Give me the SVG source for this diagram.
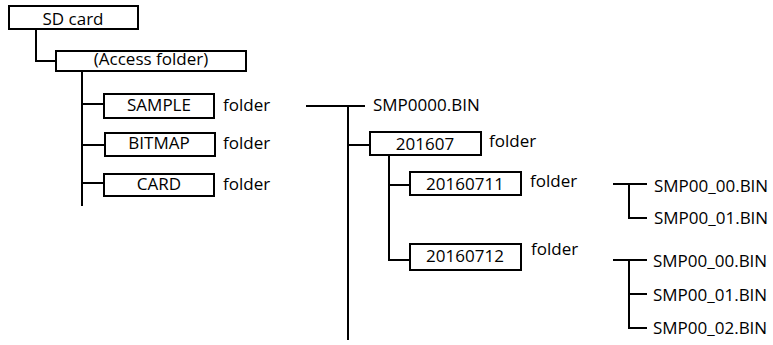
<svg xmlns="http://www.w3.org/2000/svg" width="773" height="345" viewBox="0 0 773 345">
<style>
.box{fill:#fff;stroke:#000;stroke-width:2}
.ln{fill:none;stroke:#000;stroke-width:2}
text{font-family:"Open Sans","Noto Sans",sans-serif;font-size:17px;fill:#000}
.c{text-anchor:middle}
</style>
<rect width="773" height="345" fill="#fff"/>
<g id="connectors">
<path class="ln" d="M36 29V61H56"/>
<path class="ln" d="M82 71V206M82 104H104M82 145H105M82 183H104"/>
<path class="ln" d="M306 106H365M348 106V340M348 145H370"/>
<path class="ln" d="M389 155V260H410M389 185H410"/>
<path class="ln" d="M613 184H647M629 184V218H647"/>
<path class="ln" d="M613 260H647M629 260V328H647M629 294H647"/>
</g>
<g id="sdcard"><rect class="box" x="9" y="6" width="129" height="23"/><text class="c" x="73" y="25">SD card</text></g>
<g id="access"><rect class="box" x="56" y="51" width="190" height="20"/><text class="c" x="151" y="65">(Access folder)</text></g>
<g id="sample"><rect class="box" x="104" y="94" width="110" height="24"/><text class="c" x="159" y="111">SAMPLE</text><text x="223" y="111">folder</text></g>
<g id="bitmap"><rect class="box" x="105" y="133" width="110" height="23"/><text class="c" x="159" y="149">BITMAP</text><text x="223" y="149">folder</text></g>
<g id="card"><rect class="box" x="104" y="174" width="110" height="22"/><text class="c" x="159" y="190">CARD</text><text x="223" y="190">folder</text></g>
<g id="smp0000"><text x="373" y="111">SMP0000.BIN</text></g>
<g id="f201607"><rect class="box" x="370" y="132" width="111" height="23"/><text class="c" x="425" y="150">201607</text><text x="489" y="147">folder</text></g>
<g id="f20160711"><rect class="box" x="410" y="172" width="111" height="23"/><text class="c" x="465" y="190">20160711</text><text x="530" y="187">folder</text></g>
<g id="f20160712"><rect class="box" x="410" y="244" width="111" height="26"/><text class="c" x="465" y="262">20160712</text><text x="531" y="255">folder</text></g>
<g id="g1files"><text x="654" y="192">SMP00_00.BIN</text><text x="654" y="224">SMP00_01.BIN</text></g>
<g id="g2files"><text x="653" y="267">SMP00_00.BIN</text><text x="653" y="301">SMP00_01.BIN</text><text x="653" y="334">SMP00_02.BIN</text></g>
</svg>
